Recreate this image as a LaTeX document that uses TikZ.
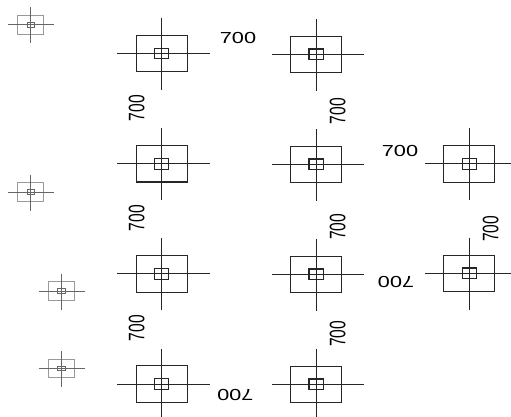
\documentclass[tikz,border=0pt]{standalone}
\usepackage{fontspec}
\setmainfont{Liberation Sans}
\definecolor{bigline}{gray}{0.15}
\definecolor{smallline}{gray}{0.4}
\definecolor{smallbox}{gray}{0.6}
\tikzset{
  outerbig/.style={draw=bigline,line width=0.85pt,minimum width=38.25pt,minimum height=27.3pt,inner sep=0pt,outer sep=0pt},
  innerbig/.style={draw=bigline,line width=0.85pt,minimum width=10.6pt,minimum height=8pt,inner sep=0pt,outer sep=0pt},
  crossbig/.style={draw=bigline,line width=0.75pt},
  outersmall/.style={draw=smallbox,line width=0.7pt,minimum width=19.5pt,minimum height=14pt,inner sep=0pt,outer sep=0pt},
  innersmall/.style={draw=smallline,line width=0.5pt,minimum width=5.7pt,minimum height=3.7pt,inner sep=0pt,outer sep=0pt},
  crosssmall/.style={draw=smallline,line width=0.5pt},
  dimh/.style={font=\fontsize{10}{10}\selectfont,text=black,inner sep=0pt,transform shape,xscale=1.63,yscale=1.2},
  dimv/.style={font=\fontsize{10}{10}\selectfont,text=black,inner sep=0pt,rotate=90,transform shape,xscale=1.17,yscale=1.68},
  dimflip/.style={font=\fontsize{10}{10}\selectfont,text=black,inner sep=0pt,rotate=180,transform shape,xscale=1.63,yscale=1.2},
}
\newcommand{\footbig}[3]{%
  \coordinate (#1c) at (#2,#3);
  \coordinate (#1w) at (#2-44.4,#3);
  \coordinate (#1e) at (#2+48.3,#3);
  \coordinate (#1n) at (#2,#3-35.5);
  \coordinate (#1s) at (#2,#3+36.3);
  \node[outerbig] (#1o) at (#2,#3) {};
  \node[innerbig] (#1i) at (#2,#3) {};
  \draw[crossbig] (#1w) -- (#1e);
  \draw[crossbig] (#1n) -- (#1s);
}
\newcommand{\footsmall}[3]{%
  \coordinate (#1w) at (#2-22.4,#3);
  \coordinate (#1e) at (#2+23.3,#3);
  \coordinate (#1n) at (#2,#3-17.4);
  \coordinate (#1s) at (#2,#3+18.6);
  \node[outersmall] (#1o) at (#2,#3) {};
  \node[innersmall] (#1i) at (#2,#3) {};
  \draw[crosssmall] (#1w) -- (#1e);
  \draw[crosssmall] (#1n) -- (#1s);
}
\begin{document}
\begin{tikzpicture}[x=0.75pt,y=-0.75pt]
\useasboundingbox (0,0) rectangle (511,417);
\fill[white] (0,0) rectangle (511,417);
\footsmall{sa}{30.7}{24.7}
\footsmall{sb}{30.7}{192}
\footsmall{sc}{61.3}{291.3}
\footsmall{sd}{61.3}{368.3}
\footbig{aa}{161.7}{53.5}
\footbig{ab}{161.7}{163.8}
\footbig{ac}{161.7}{274}
\footbig{ad}{161.7}{384}
\footbig{ba}{316}{54.3}
\footbig{bb}{316}{164.3}
\footbig{bc}{316}{274.3}
\footbig{bd}{316}{384.3}
\footbig{cb}{469.3}{164}
\footbig{cc}{469.3}{273.3}
\node[dimh] (h1) at (238,38) {700};
\node[dimh] (h2) at (400,150.5) {700};
\node[dimflip] (f1) at (235.3,395.3) {700};
\node[dimflip] (f2) at (396,282) {700};
\node[dimv] (v1) at (136.7,108) {700};
\node[dimv] (v2) at (136.7,218) {700};
\node[dimv] (v3) at (136.7,328) {700};
\node[dimv] (v4) at (337.7,111) {700};
\node[dimv] (v5) at (337.7,226.7) {700};
\node[dimv] (v6) at (337.7,333.7) {700};
\node[dimv] (v7) at (490.7,228.7) {700};
\end{tikzpicture}
\end{document}
